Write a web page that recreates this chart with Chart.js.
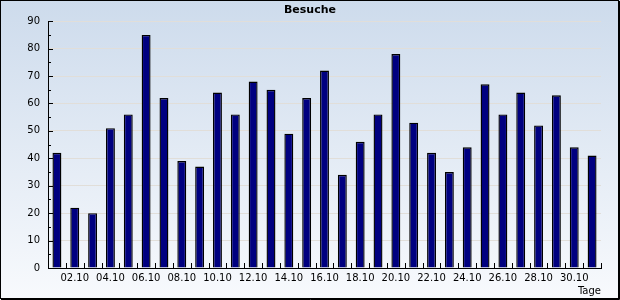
<!DOCTYPE html>
<html>
<head>
<meta charset="utf-8">
<script src="https://cdn.jsdelivr.net/npm/chart.js@4"></script>
<style>
  html, body { margin: 0; padding: 0; background: #fff; }
  #wrap { width: 620px; height: 300px; }
</style>
</head>
<body>
<div id="wrap"><canvas id="besuche"></canvas></div>
<script>
const days = [
  '01.10', '02.10', '03.10', '04.10', '05.10', '06.10', '07.10', '08.10',
  '09.10', '10.10', '11.10', '12.10', '13.10', '14.10', '15.10', '16.10',
  '17.10', '18.10', '19.10', '20.10', '21.10', '22.10', '23.10', '24.10',
  '25.10', '26.10', '27.10', '28.10', '29.10', '30.10', '31.10'
]
const visits = [
  42, 22, 20, 51, 56, 85, 62, 39, 37, 64, 56, 68, 65, 49, 62, 72,
  34, 46, 56, 78, 53, 42, 35, 44, 67, 56, 64, 52, 63, 44, 41
]
const yTicks = [0, 10, 20, 30, 40, 50, 60, 70, 80, 90]

const font = 'DejaVu Sans'

// background gradient + frame
const backdrop = {
  id: 'backdrop',
  beforeDraw (chart) {
    const { ctx, width, height } = chart
    const g = ctx.createLinearGradient(0, 0, 0, height)
    g.addColorStop(0, '#cddbec')
    g.addColorStop(1, '#f8fafd')
    ctx.save()
    ctx.fillStyle = g
    ctx.fillRect(0, 0, width, height)
    ctx.strokeStyle = '#000'
    ctx.lineWidth = 1
    ctx.strokeRect(0.5, 0.5, width - 2, height - 2)
    ctx.beginPath()
    ctx.moveTo(width - 0.5, 1)
    ctx.lineTo(width - 0.5, height - 0.5)
    ctx.lineTo(1, height - 0.5)
    ctx.stroke()
    ctx.restore()
  }
}

// small inward tick marks on both axes
const innerTicks = {
  id: 'innerTicks',
  beforeDatasetsDraw (chart) {
    const { ctx, chartArea, scales } = chart
    const x = scales.x
    const y = scales.y
    ctx.save()
    ctx.strokeStyle = '#000'
    ctx.lineWidth = 1
    ctx.beginPath()
    for (let v = 0; v <= 90; v += 5) {
      const py = Math.round(y.getPixelForValue(v)) + 0.5
      const len = v % 10 === 0 ? 5 : 3
      ctx.moveTo(chartArea.left, py)
      ctx.lineTo(chartArea.left + len, py)
    }
    for (let i = 0; i <= days.length; i++) {
      const px = Math.round(x.getPixelForValue(i - 0.5)) + 0.5
      ctx.moveTo(px, chartArea.bottom)
      ctx.lineTo(px, chartArea.bottom - 5)
    }
    ctx.stroke()
    ctx.restore()
  }
}

new Chart(document.getElementById('besuche'), {
  type: 'bar',
  data: {
    labels: days,
    datasets: [{
      label: 'Besuche',
      data: visits,
      backgroundColor: '#000080',
      borderColor: '#000',
      borderWidth: 1.4,
      inflateAmount: 0,
      barPercentage: 0.5,
      categoryPercentage: 1
    }]
  },
  options: {
    responsive: true,
    maintainAspectRatio: false,
    animation: false,
    layout: { padding: 0 },
    plugins: {
      legend: { display: false },
      tooltip: { enabled: false },
      title: {
        display: true,
        text: 'Besuche',
        color: '#000',
        font: { family: font, size: 11, weight: 'bold' },
        padding: { top: 4, bottom: 4 }
      }
    },
    scales: {
      x: {
        grid: { display: true, drawOnChartArea: false, drawTicks: false },
        border: { color: '#000' },
        ticks: {
          autoSkip: false,
          maxRotation: 0,
          padding: 4,
          color: '#000',
          font: { family: font, size: 10 },
          callback: (v, i) => (i % 2 === 1 ? days[i] : '')
        },
        title: {
          display: true,
          text: 'Tage',
          align: 'end',
          color: '#000',
          font: { family: font, size: 10 },
          padding: { top: 0, bottom: 3 }
        },
        afterFit: (s) => { s.width = 553; s.height = 32 }
      },
      y: {
        min: 0,
        max: 90,
        afterBuildTicks: (s) => { s.ticks = yTicks.map(v => ({ value: v })) },
        grid: { color: '#e1ded9', drawTicks: false },
        border: { color: '#000' },
        ticks: {
          padding: 8,
          color: '#000',
          font: { family: font, size: 10 }
        },
        afterFit: (s) => { s.width = 48 }
      },
      // empty strip on the right so the title stays centred on the page
      spacer: {
        type: 'linear',
        position: 'right',
        display: true,
        grid: { display: false },
        border: { display: false },
        ticks: { display: false },
        afterFit: (s) => { s.width = 19 }
      }
    }
  },
  plugins: [backdrop, innerTicks]
})
</script>
</body>
</html>
